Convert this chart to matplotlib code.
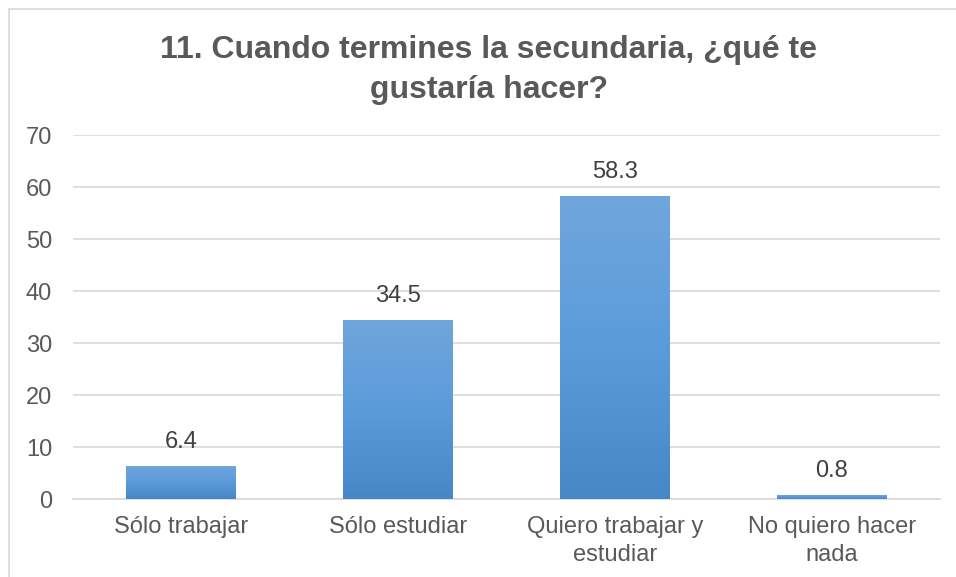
import matplotlib
matplotlib.use("Agg")
import matplotlib.pyplot as plt
import numpy as np
from matplotlib.colors import LinearSegmentedColormap
from matplotlib.patches import Rectangle

categories = ["Sólo trabajar", "Sólo estudiar", "Quiero trabajar y\nestudiar", "No quiero hacer\nnada"]
values = [6.4, 34.5, 58.3, 0.8]
labels = ["6.4", "34.5", "58.3", "0.8"]
yticks = [0, 10, 20, 30, 40, 50, 60, 70]
title = "11. Cuando termines la secundaria, ¿qué te\ngustaría hacer?"

plt.rcParams['font.family'] = ['Liberation Sans', 'DejaVu Sans']
txt = "#595959"

fig = plt.figure(figsize=(9.56, 5.77), dpi=100)
ax = fig.add_axes([73/956, 1 - 499/577, 867/956, 364/577])

# figure border
fig.patches.append(Rectangle((8.5/956, -0.1), 2, 1.1 - 8.5/577, transform=fig.transFigure,
                             fill=False, edgecolor="#d9d9d9", linewidth=1.2))

x = np.arange(len(categories))
bars = ax.bar(x, values, width=0.507, color="#5b9bd5", zorder=3)
cmap = LinearSegmentedColormap.from_list("g", ["#4587c7", "#5b9bdb", "#70a6db"])
grad = np.linspace(0, 1, 256).reshape(-1, 1)
for b in bars:
    x0, y0 = b.get_x(), b.get_y()
    w, h = b.get_width(), b.get_height()
    im = ax.imshow(grad, cmap=cmap, aspect="auto", origin="lower",
                   extent=[x0, x0 + w, y0, y0 + max(h, 1e-6)], zorder=4)
    im.set_clip_path(b)

for xi, v, lab in zip(x, values, labels):
    ax.annotate(lab, (xi, v), xytext=(0, 9), textcoords="offset points",
                ha="center", va="bottom", fontsize=17, color="#404040")

ax.set_xlim(-0.5, len(categories) - 0.5)
ax.set_ylim(0, 70)
ax.set_yticks(yticks)
ax.set_yticklabels([str(t) for t in yticks], fontsize=17, color=txt)
ax.set_xticks(x)
ax.set_xticklabels(categories, fontsize=17, color=txt, linespacing=1.35)
ax.tick_params(axis="both", length=0)
ax.tick_params(axis="y", pad=15)
ax.tick_params(axis="x", pad=12)
ax.grid(axis="y", color="#d9d9d9", linewidth=1.2, zorder=0)
ax.set_axisbelow(True)
for s in ["top", "right", "left"]:
    ax.spines[s].set_visible(False)
ax.spines["bottom"].set_color("#d9d9d9")
ax.spines["bottom"].set_linewidth(1.2)

fig.text(489/956, 1 - 70/577, title, ha="center", va="center", fontsize=23,
         fontweight="bold", color=txt, linespacing=1.4)

fig.savefig("out.png", dpi=100)
